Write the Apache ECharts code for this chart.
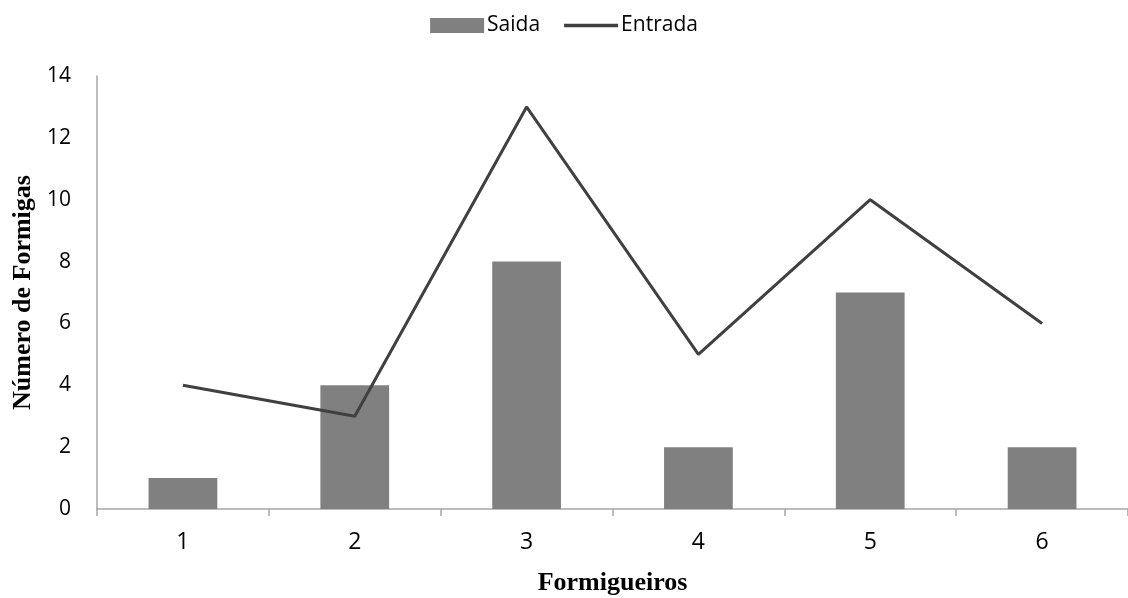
<!DOCTYPE html>
<html>
<head>
<meta charset="utf-8">
<script src="https://cdn.jsdelivr.net/npm/echarts@6/dist/echarts.min.js"></script>
<style>
  html, body { margin: 0; padding: 0; background: #fff; }
  #chart { width: 1128px; height: 598px; }
</style>
</head>
<body>
<div id="chart"></div>
<script>
// Formigueiros (ant nests) and ant counts leaving / entering
const categories = ['1', '2', '3', '4', '5', '6'];
const saida = [1, 4, 8, 2, 7, 2];
const entrada = [4, 3, 13, 5, 10, 6];
const yTicks = { min: 0, max: 14, interval: 2 };

const titleFont = { fontFamily: 'Liberation Serif', fontSize: 26, fontWeight: 'bold', color: '#000' };

const chart = echarts.init(document.getElementById('chart'), null, { renderer: 'canvas' });
chart.setOption({
  animation: false,
  backgroundColor: '#fff',
  legend: {
    top: 10,
    left: 'center',
    itemGap: 24,
    itemWidth: 54,
    itemHeight: 15,
    symbolKeepAspect: true,
    textStyle: { fontFamily: 'Open Sans', fontSize: 21, color: '#000', padding: [0, 0, 0, -2] },
    data: [
      { name: 'Saida', icon: 'rect' },
      { name: 'Entrada', icon: 'path://M0 0H60V4H0Z' }
    ]
  },
  grid: { left: 97, right: 0, top: 76, bottom: 89, containLabel: false, outerBoundsMode: 'none' },
  xAxis: {
    type: 'category',
    data: categories,
    name: 'Formigueiros',
    nameLocation: 'middle',
    nameGap: 61,
    nameTextStyle: titleFont,
    axisLine: { lineStyle: { color: '#a6a6a6', width: 1.5 } },
    axisTick: { show: true, length: 7, lineStyle: { color: '#a6a6a6', width: 1.5 } },
    axisLabel: { margin: 22, fontFamily: 'Open Sans', fontSize: 23, color: '#000' }
  },
  yAxis: {
    type: 'value',
    min: yTicks.min,
    max: yTicks.max,
    interval: yTicks.interval,
    name: 'Número de Formigas',
    nameLocation: 'middle',
    nameGap: 58,
    nameRotate: 90,
    nameTextStyle: titleFont,
    axisLine: { show: true, lineStyle: { color: '#a6a6a6', width: 1.5 } },
    axisTick: { show: false },
    splitLine: { show: false },
    axisLabel: { margin: 26, fontFamily: 'Open Sans', fontSize: 21, color: '#000' }
  },
  series: [
    {
      name: 'Saida',
      type: 'bar',
      data: saida,
      barWidth: '40%',
      itemStyle: { color: '#808080' }
    },
    {
      name: 'Entrada',
      type: 'line',
      data: entrada,
      symbol: 'none',
      lineStyle: { color: '#404040', width: 3 },
      itemStyle: { color: '#404040' }
    }
  ]
});
</script>
</body>
</html>
